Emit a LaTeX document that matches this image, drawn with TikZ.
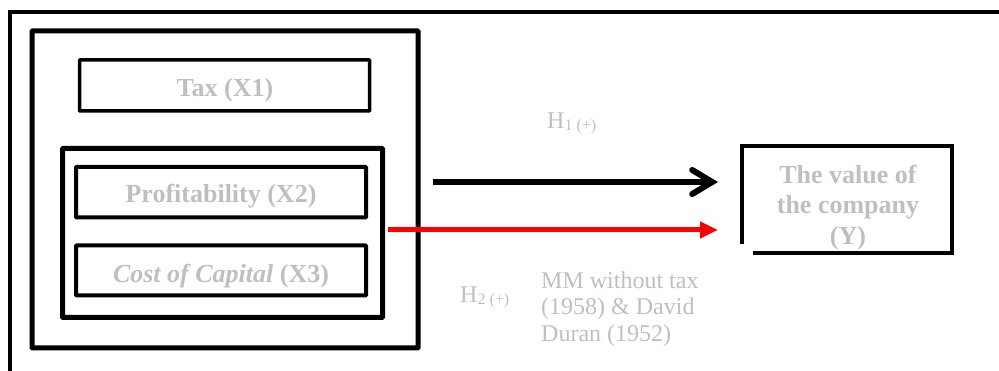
\documentclass[tikz,border=0pt]{standalone}
\usepackage{fontspec}
\setmainfont{Liberation Serif}
\usetikzlibrary{arrows.meta}
\definecolor{txtgray}{HTML}{BFBFBF}
\definecolor{arrred}{HTML}{FF0000}
\begin{document}
\begin{tikzpicture}[x=1pt,y=-1pt,
  frame/.style={draw=black, line width=#1, inner sep=0pt, outer sep=0pt, rounded corners=0.6pt},
  lbl/.style={text=txtgray, font=\fontsize{26}{30}\selectfont\bfseries, anchor=base, inner sep=0pt},
  note/.style={text=txtgray, font=\fontsize{24}{27}\selectfont, inner sep=0pt}]
\useasboundingbox (0,0) rectangle (999,371);
% outer frame (partly visible)
\draw[line width=4pt, line join=miter] (10,371) -- (10,12) -- (999,12);
% group boxes
\node[frame=5pt, minimum width=386pt, minimum height=317pt] (big) at (225,189.5) {};
\node[frame=3.5pt, minimum width=290pt, minimum height=51pt] (tax) at (224.5,85.5) {};
\node[frame=5pt, minimum width=320pt, minimum height=169pt] (inner) at (222.5,233) {};
\node[frame=4pt, minimum width=290pt, minimum height=50.5pt] (prof) at (221,192.25) {};
\node[frame=4pt, minimum width=290pt, minimum height=50pt] (cost) at (221,270.5) {};
\node[lbl] (taxt) at (225,97) {Tax (X1)};
\node[lbl] (proft) at (221,203) {Profitability (X2)};
\node[lbl] (costt) at (221,283) {\itshape Cost of Capital \upshape(X3)};
% dependent variable box
\node[inner sep=0pt, outer sep=0pt, minimum width=210pt, minimum height=107.5pt] (yb) at (847,199.75) {};
\draw[line width=4pt, line join=miter] ([xshift=11pt]yb.south west) -- (yb.south east) -- (yb.north east) -- (yb.north west) -- ([yshift=9.5pt]yb.south west);
\node[lbl] (y1) at (848,184) {The value of};
\node[lbl] (y2) at (848,214) {the company};
\node[lbl] (y3) at (848,245) {(Y)};
% arrows
\coordinate (a1s) at (433,182);
\coordinate (a1e) at (718,182);
\coordinate (a2s) at (388,230);
\coordinate (a2e) at (718,230);
\draw[line width=6pt, -{Straight Barb[length=20pt,width=24pt,line cap=round]}] (a1s) -- (a1e);
\draw[line width=5pt, arrred, -{Triangle[length=18pt,width=16pt]}] (a2s) -- (a2e);
% labels
\node[note, anchor=base west] (h1) at (547,129) {H{\fontsize{16}{16}\selectfont\raisebox{-2pt}{1 (+)}}};
\node[note, anchor=base west] (h2) at (460,303) {H{\fontsize{16}{16}\selectfont\raisebox{-2pt}{2 (+)}}};
\node[note, anchor=base west] (mm1) at (541,289) {MM without tax};
\node[note, anchor=base west] (mm2) at (541,315) {(1958) \& David};
\node[note, anchor=base west] (mm3) at (541,342) {Duran (1952)};
\end{tikzpicture}
\end{document}
